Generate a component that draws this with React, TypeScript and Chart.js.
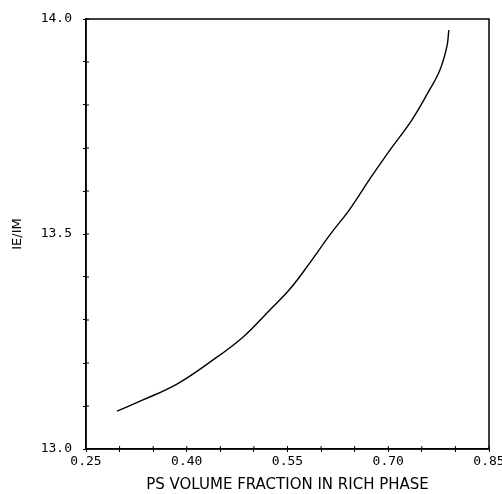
import React, { useEffect, useRef } from "react";
import { Chart, registerables } from "chart.js";

Chart.register(...registerables);

const xValues = [0.2961, 0.3348, 0.3854, 0.4345, 0.4836, 0.5223, 0.5536, 0.5833, 0.6131, 0.6429, 0.6726, 0.7024, 0.7351, 0.7589, 0.7768, 0.7872, 0.7902];
const yValues = [13.088, 13.114, 13.151, 13.202, 13.26, 13.321, 13.372, 13.433, 13.498, 13.558, 13.628, 13.695, 13.765, 13.828, 13.881, 13.935, 13.974];
const xTickLabels = ["0.25", "0.40", "0.55", "0.70", "0.85"];
const yTickLabels = ["13.0", "13.5", "14.0"];

const boxPlugin = {
  id: "box",
  afterDraw(chart: any) {
    const { ctx, chartArea, scales } = chart;
    ctx.save();
    ctx.strokeStyle = "#000";
    ctx.lineWidth = 1.5;
    ctx.strokeRect(chartArea.left, chartArea.top, chartArea.right - chartArea.left, chartArea.bottom - chartArea.top);
    ctx.lineWidth = 1;
    ctx.beginPath();
    scales.x.ticks.forEach((t: any) => {
      const px = scales.x.getPixelForValue(t.value);
      ctx.moveTo(px, chartArea.bottom);
      ctx.lineTo(px, chartArea.bottom - 3);
    });
    scales.y.ticks.forEach((t: any) => {
      const py = scales.y.getPixelForValue(t.value);
      ctx.moveTo(chartArea.left, py);
      ctx.lineTo(chartArea.left + 3, py);
    });
    ctx.stroke();
    ctx.restore();
  },
};

export default function App() {
  const ref = useRef<HTMLCanvasElement | null>(null);
  useEffect(() => {
    document.body.style.margin = "0";
    const canvas = ref.current!;
    const chart = new Chart(canvas, {
      type: "line",
      data: {
        datasets: [
          {
            data: xValues.map((x, i) => ({ x, y: yValues[i] })),
            borderColor: "#000",
            borderWidth: 1.4,
            pointRadius: 0,
            tension: 0.4,
            fill: false,
          },
        ],
      },
      options: {
        animation: false,
        responsive: false,
        maintainAspectRatio: false,
        layout: { padding: { left: 0, right: 13, top: 19, bottom: 0 } },
        plugins: { legend: { display: false }, tooltip: { enabled: false } },
        scales: {
          x: {
            type: "linear",
            min: 0.25,
            max: 0.85,
            afterFit: (s: any) => { s.height = 45; s.paddingLeft = 0; s.paddingRight = 0; },
            border: { display: true, color: "#000", width: 1.5 },
            grid: { drawOnChartArea: false, color: "#000", tickLength: 3, lineWidth: 1 },
            ticks: {
              stepSize: 0.05,
              color: "#000",
              font: { family: "DejaVu Sans Mono", size: 13 },
              padding: 2,
              maxRotation: 0,
              autoSkip: false,
              callback: (v: any) => {
                const s = Number(v).toFixed(2);
                return xTickLabels.includes(s) ? s : "";
              },
            },
            title: {
              display: true,
              text: "PS VOLUME FRACTION IN RICH PHASE",
              color: "#000",
              font: { family: "DejaVu Sans", size: 15 },
              padding: { top: 3, bottom: 0 },
            },
          },
          y: {
            type: "linear",
            min: 13.0,
            max: 14.0,
            afterFit: (s: any) => { s.width = 86; s.paddingTop = 0; s.paddingBottom = 0; },
            border: { display: true, color: "#000", width: 1.5 },
            grid: { drawOnChartArea: false, color: "#000", tickLength: 3, lineWidth: 1 },
            ticks: {
              stepSize: 0.1,
              color: "#000",
              font: { family: "DejaVu Sans Mono", size: 13 },
              padding: 11,
              autoSkip: false,
              callback: (v: any) => {
                const n = Math.round(Number(v) * 10);
                const s = (n / 10).toFixed(1);
                return n % 5 === 0 && yTickLabels.includes(s) ? s : "";
              },
            },
            title: {
              display: true,
              text: "IE/IM",
              color: "#000",
              font: { family: "DejaVu Sans", size: 13 },
              padding: { top: 10, bottom: 0 },
            },
          },
        },
      },
      plugins: [boxPlugin],
    } as any);
    return () => chart.destroy();
  }, []);
  return <canvas ref={ref} width={502} height={494} style={{ display: "block", width: 502, height: 494 }} />;
}
